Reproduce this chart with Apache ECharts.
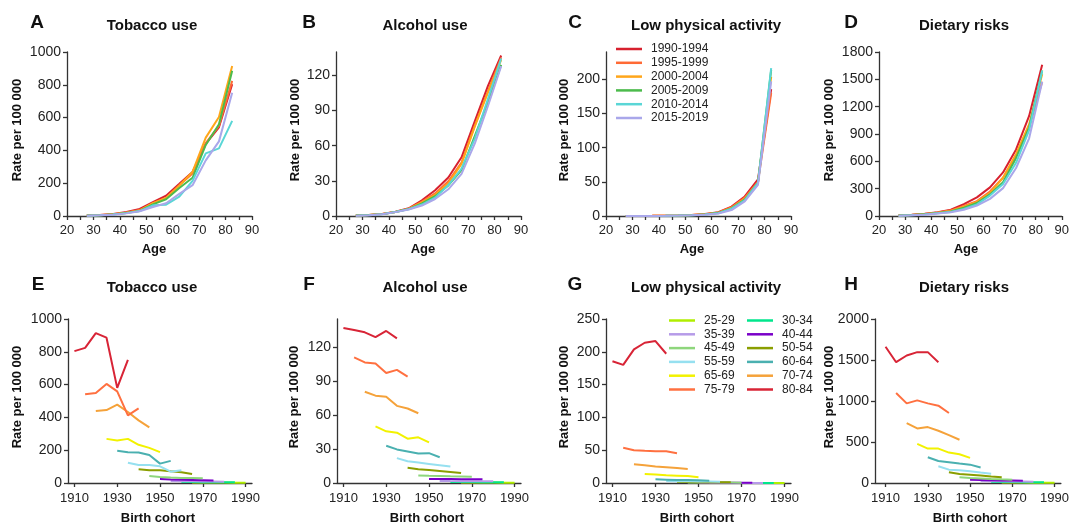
<!DOCTYPE html>
<html>
<head>
<meta charset="UTF-8">
<title>Risk factor rates by age and birth cohort</title>
<script src="https://cdn.jsdelivr.net/npm/echarts@6/dist/echarts.min.js"></script>
<style>
  html, body { margin: 0; padding: 0; background: #fff; }
  #chart { width: 1072px; height: 524px; }
</style>
</head>
<body>
<div id="chart"></div>
<script>
// age groups (rows) and periods (columns)
var ages = ['25-29', '30-34', '35-39', '40-44', '45-49', '50-54', '55-59', '60-64', '65-69', '70-74', '75-79', '80-84'];
var ageMid = [27.5, 32.5, 37.5, 42.5, 47.5, 52.5, 57.5, 62.5, 67.5, 72.5, 77.5, 82.5];
var periods = ['1990-1994', '1995-1999', '2000-2004', '2005-2009', '2010-2014', '2015-2019'];
var periodMid = [1992.5, 1997.5, 2002.5, 2007.5, 2012.5, 2017.5];

// rate per 100 000, one row per age group, one column per period
var tobacco = [
  [3, 2.8, 2.6, 2.4, 2.2, 2],
  [6, 5.6, 5.2, 4.8, 4.4, 4],
  [12, 11, 10.5, 9.5, 8.8, 8],
  [24, 22, 20.5, 19, 17.5, 16],
  [43, 36, 33, 31, 30, 29],
  [84, 78, 78, 71, 65, 55],
  [124, 110, 110, 102, 69, 78],
  [196, 188, 186, 171, 118, 135],
  [269, 259, 269, 233, 214, 188],
  [439, 445, 478, 433, 382, 339],
  [541, 549, 604, 559, 412, 455],
  [804, 824, 914, 886, 580, 751]
];
var alcohol = [
  [0.4, 0.38, 0.36, 0.34, 0.32, 0.3],
  [0.9, 0.85, 0.8, 0.75, 0.72, 0.7],
  [1.8, 1.7, 1.65, 1.6, 1.55, 1.5],
  [3.6, 3.5, 3.45, 3.4, 3.35, 3.3],
  [6.6, 6.3, 6.1, 5.9, 5.8, 5.5],
  [13.4, 12.2, 11.6, 10.7, 9.8, 8.9],
  [22, 19.3, 18.1, 16.9, 15.7, 14.5],
  [32.9, 29.7, 27.9, 26.1, 26.4, 22.8],
  [50.1, 45.7, 44.5, 39.2, 40.4, 35.9],
  [80.7, 77.2, 76.3, 68.2, 65.9, 61.7],
  [111, 106.6, 105.6, 97.3, 100, 94],
  [137, 135.3, 133.2, 129, 134.4, 127.9]
];
var activity = [
  [0.05, 0.05, 0.05, 0.05, 0.05, 0.05],
  [0.1, 0.1, 0.1, 0.09, 0.09, 0.09],
  [0.2, 0.2, 0.19, 0.18, 0.17, 0.16],
  [0.4, 0.38, 0.36, 0.34, 0.32, 0.3],
  [0.8, 0.75, 0.7, 0.65, 0.6, 0.55],
  [1.5, 1.4, 1.3, 1.2, 1.1, 1.0],
  [3.0, 2.7, 2.5, 2.3, 2.1, 1.9],
  [5.6, 5.1, 4.6, 4.6, 4.1, 3.6],
  [13.8, 12.8, 11.7, 11.2, 10.7, 8.7],
  [28.6, 27, 25, 24, 23, 21.4],
  [53.6, 50, 49, 48.5, 48.5, 45.4],
  [185.7, 180, 203.6, 213.8, 216.3, 197]
];
var dietary = [
  [6, 5.5, 5, 4.5, 4, 3.6],
  [13, 12, 11, 10, 9, 8],
  [24, 22, 20, 18, 17, 15],
  [41, 38, 35, 32, 30, 28],
  [69, 62, 56, 50, 45, 41],
  [131, 110, 102, 90, 78, 69],
  [204, 163, 155, 143, 127, 114],
  [314, 269, 253, 237, 224, 188],
  [478, 420, 420, 371, 351, 306],
  [731, 665, 682, 637, 584, 527],
  [1098, 971, 1008, 971, 943, 853],
  [1661, 1473, 1555, 1596, 1596, 1473]
];

// y tick labels per panel
var ticksTobacco = [0, 200, 400, 600, 800, 1000];
var ticksAlcohol = [0, 30, 60, 90, 120];
var ticksActivityAge = [0, 50, 100, 150, 200];
var ticksActivityCohort = [0, 50, 100, 150, 200, 250];
var ticksDietaryAge = [0, 300, 600, 900, 1200, 1500, 1800];
var ticksDietaryCohort = [0, 500, 1000, 1500, 2000];
var ticksAge = [20, 30, 40, 50, 60, 70, 80, 90];
var ticksAgeMinor = [20, 25, 30, 35, 40, 45, 50, 55, 60, 65, 70, 75, 80, 85, 90];
var ticksCohort = [1910, 1930, 1950, 1970, 1990];

var periodColors = ['#d7202e', '#ff6a35', '#ffa61a', '#4cbb4c', '#5ad6d6', '#a9a7ea'];
var ageColors = ['#b0ee00', '#00e68c', '#b69be8', '#7a00c8', '#8ed67c', '#8a9e00',
                 '#96e0f0', '#4ab0b0', '#f2f200', '#f5a23a', '#ff7040', '#d82436'];

var FONT = '"Liberation Sans", Arial, Helvetica, sans-serif';

// panel layout
var panels = [
  { letter: 'A', title: 'Tobacco use', table: tobacco, kind: 'age', yMax: 1000, yTicks: ticksTobacco,
    grid: { left: 67, top: 52, width: 185, height: 164 }, letterX: 37, titleX: 152, nameX: 154, yNameX: 17 },
  { letter: 'B', title: 'Alcohol use', table: alcohol, kind: 'age', yMax: 140, yTicks: ticksAlcohol,
    grid: { left: 336, top: 52, width: 185, height: 164 }, letterX: 309, titleX: 425, nameX: 423, yNameX: 295 },
  { letter: 'C', title: 'Low physical activity', table: activity, kind: 'age', yMax: 240, yTicks: ticksActivityAge,
    grid: { left: 606, top: 52, width: 185, height: 164 }, letterX: 575, titleX: 706, nameX: 692, yNameX: 564 },
  { letter: 'D', title: 'Dietary risks', table: dietary, kind: 'age', yMax: 1800, yTicks: ticksDietaryAge,
    grid: { left: 879, top: 52, width: 185, height: 164 }, letterX: 851, titleX: 964, nameX: 966, yNameX: 829 },
  { letter: 'E', title: 'Tobacco use', table: tobacco, kind: 'cohort', yMax: 1000, yTicks: ticksTobacco, xMin: 1907,
    grid: { left: 68, top: 319, width: 184, height: 164 }, letterX: 38, titleX: 152, nameX: 158, yNameX: 17 },
  { letter: 'F', title: 'Alcohol use', table: alcohol, kind: 'cohort', yMax: 145, yTicks: ticksAlcohol, xMin: 1907,
    grid: { left: 337, top: 319, width: 184, height: 164 }, letterX: 309, titleX: 425, nameX: 427, yNameX: 294 },
  { letter: 'G', title: 'Low physical activity', table: activity, kind: 'cohort', yMax: 250, yTicks: ticksActivityCohort, xMin: 1907,
    grid: { left: 606, top: 319, width: 185, height: 164 }, letterX: 575, titleX: 706, nameX: 697, yNameX: 564 },
  { letter: 'H', title: 'Dietary risks', table: dietary, kind: 'cohort', yMax: 2000, yTicks: ticksDietaryCohort, xMin: 1905,
    grid: { left: 875, top: 319, width: 189, height: 164 }, letterX: 851, titleX: 964, nameX: 970, yNameX: 829 }
];

var axisLineStyle = { color: '#333', width: 1.3 };
var plain = function (v) { return String(v); };
var grids = [], xAxes = [], yAxes = [], series = [], graphics = [];

panels.forEach(function (p, k) {
  var top = p.grid.top;
  var rowTop = (p.kind === 'age') ? 0 : 262;
  grids.push(p.grid);

  if (p.kind === 'age') {
    xAxes.push({
      type: 'value', gridIndex: k, min: 20, max: 90,
      axisLine: { show: true, onZero: true, lineStyle: axisLineStyle },
      axisTick: { show: true, length: 4, lineStyle: axisLineStyle, customValues: ticksAgeMinor },
      axisLabel: { customValues: ticksAge, formatter: plain, margin: 8, color: '#222', fontSize: 13, fontFamily: FONT },
      splitLine: { show: false }
    });
  } else {
    xAxes.push({
      type: 'value', gridIndex: k, min: p.xMin, max: 1993,
      axisLine: { show: true, onZero: true, lineStyle: axisLineStyle },
      axisTick: { show: true, length: 4, lineStyle: axisLineStyle, customValues: ticksCohort },
      axisLabel: { customValues: ticksCohort, formatter: plain, margin: 9, color: '#222', fontSize: 13, fontFamily: FONT },
      splitLine: { show: false }
    });
  }
  yAxes.push({
    type: 'value', gridIndex: k, min: 0, max: p.yMax,
    axisLine: { show: true, lineStyle: axisLineStyle },
    axisTick: { show: true, length: 4, lineStyle: axisLineStyle, customValues: p.yTicks },
    axisLabel: { customValues: p.yTicks, formatter: plain, margin: 6, color: '#222', fontSize: 14, fontFamily: FONT },
    splitLine: { show: false }
  });

  if (p.kind === 'age') {
    // one line per period across age groups
    periods.forEach(function (per, j) {
      series.push({
        type: 'line', name: per, xAxisIndex: k, yAxisIndex: k,
        data: ageMid.map(function (a, i) { return [a, p.table[i][j]]; }),
        symbol: 'none', lineStyle: { width: 2, color: periodColors[j] },
        itemStyle: { color: periodColors[j] }, emphasis: { disabled: true }
      });
    });
  } else {
    // one line per age group across birth cohorts
    ages.forEach(function (ag, i) {
      series.push({
        type: 'line', name: ag, xAxisIndex: k, yAxisIndex: k,
        data: periodMid.map(function (pm, j) { return [pm - ageMid[i], p.table[i][j]]; }),
        symbol: 'none', lineStyle: { width: 2, color: ageColors[i] },
        itemStyle: { color: ageColors[i] }, emphasis: { disabled: true }
      });
    });
  }

  graphics.push({ type: 'text', x: p.letterX, y: rowTop + 23, style: {
    text: p.letter, font: 'bold 19px ' + FONT, fill: '#111', align: 'center', verticalAlign: 'middle' } });
  graphics.push({ type: 'text', x: p.titleX, y: rowTop + 26, style: {
    text: p.title, font: 'bold 15px ' + FONT, fill: '#111', align: 'center', verticalAlign: 'middle' } });
  graphics.push({ type: 'text', x: p.nameX, y: (p.kind === 'age') ? 249 : 518, style: {
    text: (p.kind === 'age') ? 'Age' : 'Birth cohort', font: 'bold 13px ' + FONT, fill: '#111',
    align: 'center', verticalAlign: 'middle' } });
  graphics.push({ type: 'text', x: p.yNameX, y: top + 78, rotation: Math.PI / 2, style: {
    text: 'Rate per 100 000', font: 'bold 13px ' + FONT, fill: '#111', align: 'center', verticalAlign: 'middle' } });
});

var legendBase = {
  orient: 'vertical', padding: 0, itemWidth: 26, itemHeight: 2.5, itemGap: 1.8, icon: 'rect',
  selectedMode: false,
  textStyle: { fontSize: 12, lineHeight: 12, color: '#222', fontFamily: FONT, padding: [0, 0, 0, 4] }
};
function makeLegend(left, top, names) {
  var l = Object.assign({}, legendBase);
  l.left = left; l.top = top; l.data = names;
  return l;
}

var option = {
  animation: false,
  textStyle: { fontFamily: FONT },
  grid: grids,
  xAxis: xAxes,
  yAxis: yAxes,
  legend: [
    makeLegend(616, 43, periods),
    makeLegend(669, 314.5, ages.filter(function (a, i) { return i % 2 === 0; })),
    makeLegend(747, 314.5, ages.filter(function (a, i) { return i % 2 === 1; }))
  ],
  graphic: graphics,
  series: series
};

var chart = echarts.init(document.getElementById('chart'), null, { renderer: 'canvas' });
chart.setOption(option);
</script>
</body>
</html>
